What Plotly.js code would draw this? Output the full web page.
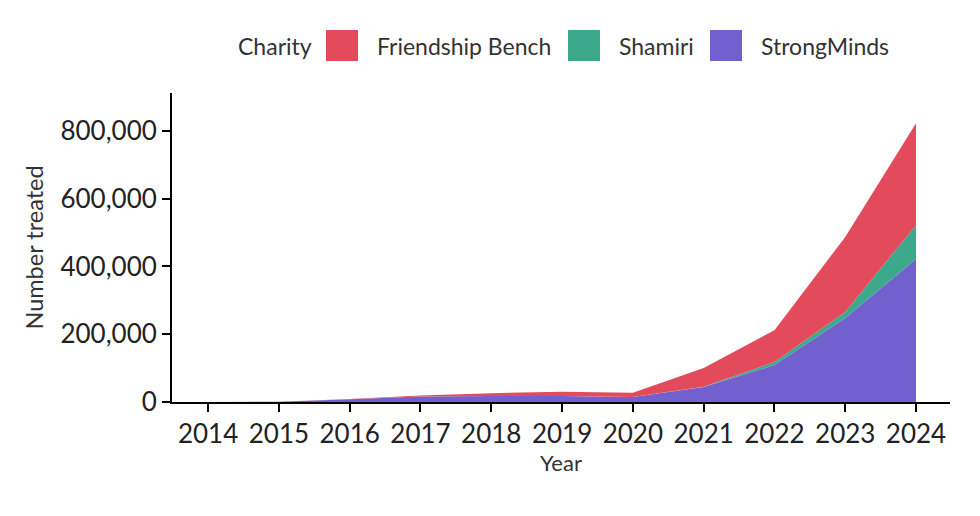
<!DOCTYPE html>
<html><head><meta charset="utf-8">
<script src="https://cdn.plot.ly/plotly-3.0.1.min.js"></script>
<style>body{margin:0;background:#fff}#c{width:980px;height:516px}</style>
</head><body><div id="c"></div>
<script>
const years = [2014,2015,2016,2017,2018,2019,2020,2021,2022,2023,2024];
const strongMinds = [0,1000,8000,16000,18000,18000,15000,44000,109000,248000,422000];
const shamiri = [0,0,0,0,0,0,0,1000,9000,18000,100000];
const friendshipBench = [0,0,1000,3000,8000,12000,12000,55000,94000,221000,301000];
const yTicks = [0,200000,400000,600000,800000];
const yTickText = ['0','200,000','400,000','600,000','800,000'];
const legendTitle = 'Charity';
const legendNames = ['Friendship Bench', 'Shamiri', 'StrongMinds'];

const colors = {'StrongMinds': '#7360CF', 'Shamiri': '#3CA98C', 'Friendship Bench': '#E34B5C'};
const series = [['StrongMinds', strongMinds], ['Shamiri', shamiri], ['Friendship Bench', friendshipBench]];
const data = series.map(([name, y]) => ({
  x: years, y: y, name: name, type: 'scatter', mode: 'lines', showlegend: false,
  stackgroup: 'one', line: {width: 0, color: colors[name]}, fillcolor: colors[name]
}));

// plot area in pixels (for legend placement in paper coords)
const L = 172, R = 950, T = 93, B = 402;
const px = v => (v - L) / (R - L);
const py = v => (B - v) / (B - T);
const legendFont = {family: 'Lato, "Open Sans", sans-serif', size: 23, color: '#333'};
const keyX = [326, 568, 710];
const shapes = [], annotations = [];
annotations.push({xref: 'paper', yref: 'paper', x: px(236), y: py(46), xanchor: 'left', yanchor: 'middle',
  text: legendTitle, showarrow: false, font: legendFont});
legendNames.forEach((name, i) => {
  shapes.push({type: 'rect', xref: 'paper', yref: 'paper', x0: px(keyX[i]), x1: px(keyX[i] + 32),
    y0: py(61), y1: py(30), fillcolor: colors[name], line: {width: 0}, layer: 'above'});
  annotations.push({xref: 'paper', yref: 'paper', x: px(keyX[i] + 49), y: py(46), xanchor: 'left', yanchor: 'middle',
    text: name, showarrow: false, font: legendFont});
});

const font = {family: 'Lato, "Open Sans", sans-serif', color: '#222'};
const layout = {
  width: 980, height: 516,
  margin: {l: L, r: 980 - R, t: T, b: 516 - B},
  paper_bgcolor: '#fff', plot_bgcolor: '#fff',
  font: font,
  showlegend: false,
  shapes: shapes, annotations: annotations,
  xaxis: {
    range: [2013.49, 2024.48], tickvals: years, ticktext: years.map(String),
    showgrid: false, zeroline: false, showline: true, linecolor: '#000', linewidth: 2,
    ticks: 'outside', ticklen: 8, tickwidth: 2, tickcolor: '#000',
    tickfont: {size: 26, color: '#222'},
    title: {text: 'Year', font: {size: 22, color: '#333'}, standoff: 4}
  },
  yaxis: {
    range: [0, 912000], tickvals: yTicks, ticktext: yTickText,
    showgrid: false, zeroline: false, showline: true, linecolor: '#000', linewidth: 2,
    ticks: 'outside', ticklen: 8, tickwidth: 2, tickcolor: '#000',
    tickfont: {size: 26, color: '#222'},
    title: {text: 'Number treated', font: {size: 23.5, color: '#333'}, standoff: 10}
  }
};
Plotly.newPlot('c', data, layout, {displayModeBar: false, staticPlot: true});
</script></body></html>
